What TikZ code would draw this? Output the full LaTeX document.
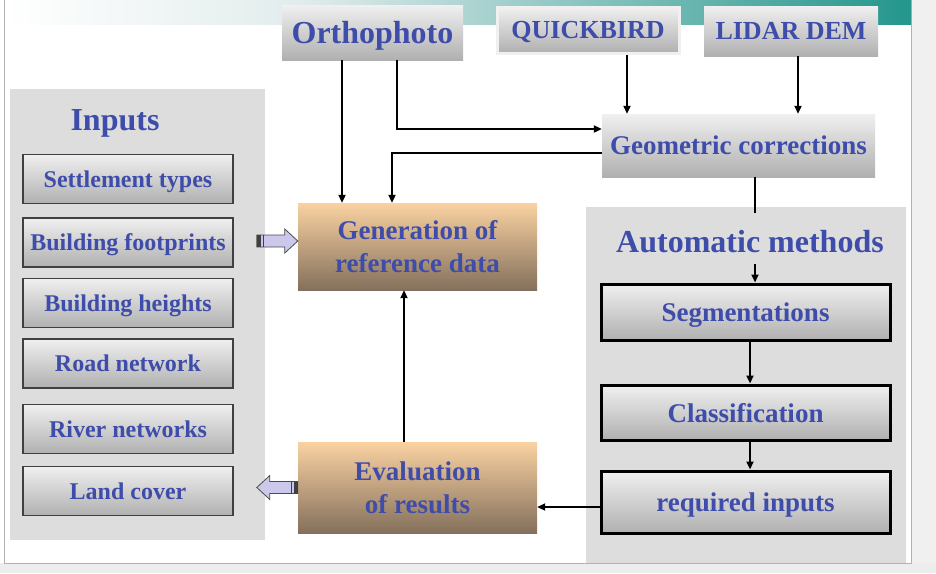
\documentclass[tikz,border=0pt]{standalone}
\usepackage{fontspec}
\setmainfont{Liberation Serif}
\usepackage{tikz}
\usetikzlibrary{arrows.meta, calc, positioning}
\definecolor{txtblue}{RGB}{62,76,170}
\definecolor{bandteal}{RGB}{36,150,140}
\definecolor{bandpale}{RGB}{226,236,236}
\definecolor{peachtop}{RGB}{250,210,162}
\definecolor{peachmid}{RGB}{215,176,138}
\definecolor{peachbot}{RGB}{132,112,92}
\definecolor{arrlav}{RGB}{204,200,236}
\definecolor{panelgray}{RGB}{221,221,221}
\newcommand{\titlefs}{\bfseries\fontsize{32}{36}\selectfont}
\newcommand{\srcfs}{\bfseries\fontsize{26}{30}\selectfont}
\newcommand{\boxfs}{\bfseries\fontsize{27}{33}\selectfont}
\newcommand{\inpfs}{\bfseries\fontsize{24}{28}\selectfont}

\begin{document}
\begin{tikzpicture}[x=1pt, y=-1pt,
  every node/.style={text=txtblue, align=center, inner sep=0pt, text depth=0pt},
  greybox/.style={top color=gray!12, middle color=gray!30, bottom color=gray!62},
  inpbox/.style={greybox, draw=black!75, line width=1.2pt, minimum width=210, minimum height=49, font=\inpfs},
  methbox/.style={greybox, draw=black, line width=3pt, minimum width=289, font=\boxfs},
  peachbox/.style={top color=peachtop, middle color=peachmid, bottom color=peachbot, minimum width=239, font=\boxfs},
  panel/.style={fill=panelgray, anchor=north west},
  conn/.style={line width=2.2pt, -{Triangle[length=8pt,width=7pt]}},
  blockarr/.style={fill=arrlav, draw=black!70, line width=0.8pt, line join=miter}]
  \useasboundingbox (0,0) rectangle (936,573);
  % slide frame and title band
  \fill[white] (0,0) rectangle (936,573);
  \fill[gray!12] (911,0) rectangle (936,573);
  \fill[gray!14] (0,563) rectangle (936,573);
  \draw[gray!60, line width=1pt] (4,0) -- (4,563) -- (911,563) -- (911,0);
  \shade[left color=white, right color=bandpale] (5,0) rectangle (300,24);
  \shade[left color=bandpale, right color=bandteal] (300,0) rectangle (911,24);

  % sources
  \node[greybox, minimum width=181, minimum height=55, font=\titlefs] (ortho) at (372.5,32.5) {Orthophoto};
  \node[greybox, draw=gray!12, line width=3pt, minimum width=182, minimum height=46, font=\srcfs] (quick) at (588,30) {QUICKBIRD};
  \node[greybox, minimum width=174, minimum height=50, font=\srcfs] (lidar) at (791,31) {LIDAR DEM};
  \node[greybox, minimum width=273, minimum height=63, font=\boxfs] (geo) at (738.5,145.5) {Geometric corrections};

  % inputs
  \node[panel, minimum width=255, minimum height=451] (inbg) at (10,89) {};
  \node[font=\titlefs] (inlbl) at (115,120) {Inputs};
  \foreach \yy/\txt [count=\i] in {179/Settlement types, 242.5/Building footprints, 303/Building heights,
    363.5/Road network, 429/River networks, 491/Land cover}
    \node[inpbox] (inp\i) at (128,\yy) {\txt};

  % reference data and evaluation
  \node[peachbox, minimum height=87] (gen) at (417.5,246.5) {Generation of\\reference data};
  \node[peachbox, minimum height=91] (eval) at (417.5,487.5) {Evaluation\\of results};

  % automatic methods
  \node[panel, minimum width=320, minimum height=356] (autobg) at (586,207) {};
  \node[font=\titlefs] (autolbl) at (750,241) {Automatic methods};
  \node[methbox, minimum height=56] (seg) at (745.5,312) {Segmentations};
  \node[methbox, minimum height=55] (cls) at (745.5,412.5) {Classification};
  \node[methbox, minimum height=62] (req) at (745.5,502) {required inputs};

  % connectors
  \draw[conn] ([xshift=-30.5pt]ortho.south) -- ([xshift=-30.5pt]ortho.south |- gen.north);
  \draw[conn] ([xshift=24.5pt]ortho.south) |- ([yshift=16.5pt]geo.west);
  \draw[conn] ([yshift=-7.5pt]geo.west) -| ([xshift=-25.5pt]gen.north);
  \draw[conn] ([xshift=39pt]quick.south) -- ([xshift=39pt]quick.south |- geo.north);
  \draw[conn] ([xshift=7pt]lidar.south) -- ([xshift=7pt]lidar.south |- geo.north);
  \draw[line width=2.2pt] ([xshift=16.5pt]geo.south) -- ([xshift=16.5pt,yshift=-6pt]geo.south |- autobg.north);
  \draw[conn] ([xshift=9.5pt,yshift=-12pt]seg.north |- autolbl.south) -- ([xshift=9.5pt]seg.north);
  \draw[conn] ([xshift=4.5pt]seg.south) -- ([xshift=4.5pt]cls.north);
  \draw[conn] ([xshift=4.5pt]cls.south) -- ([xshift=4.5pt]req.north);
  \draw[conn] ([yshift=-5pt]req.west) -- ([yshift=-5pt]req.west -| eval.east);
  \draw[conn] ([xshift=-13.5pt]eval.north) -- ([xshift=-13.5pt]gen.south);

  % block arrows between inputs and boxes
  \draw[blockarr] ([yshift=5.5pt]gen.west) -- ++(-13,-12) -- ++(0,6) -- ++(-28,0) -- ++(0,12) -- ++(28,0) -- ++(0,6) -- cycle;
  \fill[black!75] (257,235) rectangle (261,247);
  \draw[black!75, line width=1pt] (263.5,235) -- (263.5,247);
  \draw[blockarr] ([yshift=6pt]eval.west) -- ++(-28,0) -- ++(0,-6) -- ++(-13,12) -- ++(13,12) -- ++(0,-6) -- ++(28,0) -- cycle;
  \fill[black!75] (294,481.5) rectangle (298,493.5);
  \draw[black!75, line width=1pt] (291.5,481.5) -- (291.5,493.5);
\end{tikzpicture}
\end{document}
